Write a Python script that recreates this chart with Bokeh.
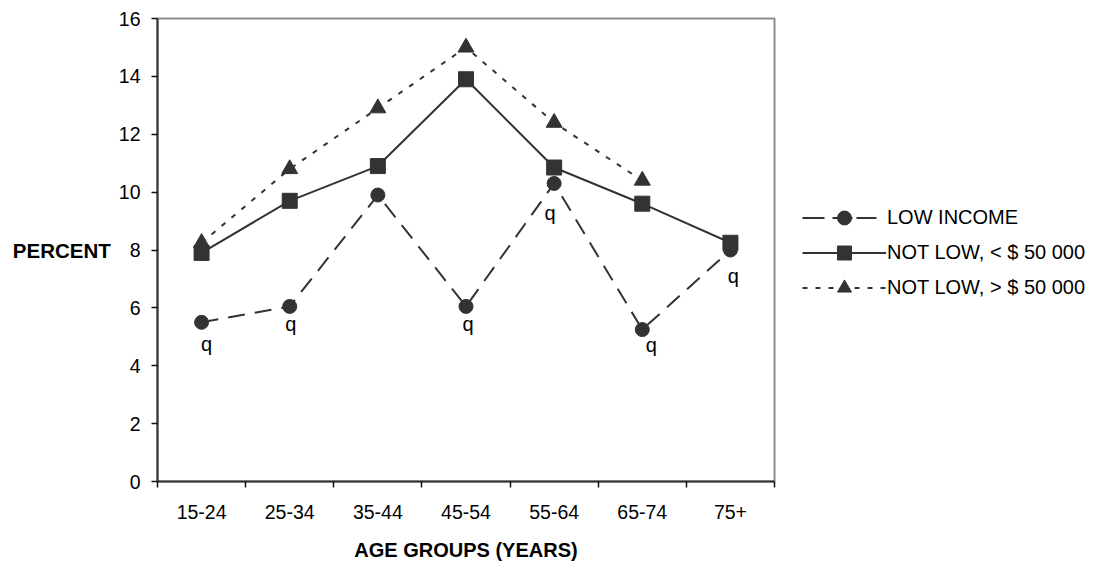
from bokeh.plotting import figure
from bokeh.layouts import row
from bokeh.models import FixedTicker, Legend, LegendItem, ColumnDataSource, Range1d
from bokeh.core.properties import value
from bokeh.embed import file_html
from bokeh.resources import INLINE

# ---- data ----
age_groups = ["15-24", "25-34", "35-44", "45-54", "55-64", "65-74", "75+"]
low_income = [5.5, 6.05, 9.9, 6.05, 10.3, 5.25, 8.0]
not_low_under_50k = [7.9, 9.7, 10.9, 13.9, 10.85, 9.6, 8.25]
not_low_over_50k = [8.25, 10.8, 12.9, 15.0, 12.4, 10.4, float("nan")]
low_income_flags = ["q", "q", "", "q", "q", "q", "q"]
y_ticks = [0, 2, 4, 6, 8, 10, 12, 14, 16]

series_names = ["LOW INCOME", "NOT LOW, < $ 50 000", "NOT LOW, > $ 50 000"]

# ---- layout / style ----
FONT = "Liberation Sans"
DARK = "#333333"
xs = [i + 0.5 for i in range(len(age_groups))]

p = figure(width=780, height=563, output_backend="svg", toolbar_location=None,
           x_range=Range1d(0, len(age_groups)), y_range=Range1d(0, 16),
           min_border_left=157, min_border_right=6, min_border_top=18, min_border_bottom=82)
p.xgrid.visible = False
p.ygrid.visible = False
p.outline_line_color = "#8c8c8c"
p.outline_line_width = 2
p.background_fill_color = "white"
p.border_fill_color = "white"

# x axis: labels at category centres, ticks at category boundaries
xa = p.xaxis[0]
xa.ticker = FixedTicker(ticks=xs, minor_ticks=list(range(len(age_groups) + 1)))
xa.major_label_overrides = {x: lab for x, lab in zip(xs, age_groups)}
xa.major_tick_line_color = None
xa.minor_tick_line_color = "#111111"
xa.minor_tick_line_width = 1.5
xa.minor_tick_in = 0
xa.minor_tick_out = 6
xa.axis_line_color = "#333333"
xa.axis_line_width = 2
xa.major_label_text_font = FONT
xa.major_label_text_font_size = "19.5px"
xa.major_label_text_color = "#000000"
xa.major_label_standoff = 17
xa.axis_label = "AGE GROUPS (YEARS)"
xa.axis_label_text_font = FONT
xa.axis_label_text_font_style = "bold"
xa.axis_label_text_font_size = "20px"
xa.axis_label_text_color = "#000000"
xa.axis_label_standoff = 17

ya = p.yaxis[0]
ya.ticker = FixedTicker(ticks=y_ticks)
ya.minor_tick_line_color = None
ya.major_tick_in = 0
ya.major_tick_out = 6
ya.major_tick_line_color = "#111111"
ya.major_tick_line_width = 1.5
ya.axis_line_color = "#333333"
ya.axis_line_width = 2
ya.major_label_text_font = FONT
ya.major_label_text_font_size = "19.5px"
ya.major_label_text_color = "#000000"
ya.major_label_standoff = 11
ya.axis_label = "PERCENT"
ya.axis_label_orientation = "horizontal"
ya.axis_label_text_font = FONT
ya.axis_label_text_font_style = "bold"
ya.axis_label_text_font_size = "20.5px"
ya.axis_label_text_color = "#000000"
ya.axis_label_standoff = 5

src = ColumnDataSource(dict(x=xs, low=low_income, under=not_low_under_50k, over=not_low_over_50k))

line_styles = [dict(line_color=DARK, line_width=2, line_dash="17 10"),
               dict(line_color=DARK, line_width=2),
               dict(line_color=DARK, line_width=2, line_dash="5 8")]
legend_line_styles = [dict(line_color=DARK, line_width=2, line_dash="22 8 20 4 20 10"),
                      dict(line_color=DARK, line_width=2),
                      dict(line_color=DARK, line_width=2, line_dash="5 8")]
marker_styles = [dict(marker="circle", size=14, fill_color=DARK, line_color=DARK),
                 dict(marker="square", size=15, fill_color=DARK, line_color=DARK),
                 dict(marker="triangle", size=16, fill_color=DARK, line_color=DARK)]
cols = ["low", "under", "over"]

for col, ls, ms in zip(cols, line_styles, marker_styles):
    p.line("x", col, source=src, **ls)
    p.scatter("x", col, source=src, **ms)

# "q" flags under the low-income points
q_dx = [5, 1, 0, 2, -4, 9, 3]
q_dy = [22, 18, 0, 18, 30, 15, 26]
qx, qy, qt, qox, qoy = [], [], [], [], []
for x, y, t, dx, dy in zip(xs, low_income, low_income_flags, q_dx, q_dy):
    if t:
        qx.append(x); qy.append(y); qt.append(t); qox.append(dx); qoy.append(dy)
qsrc = ColumnDataSource(dict(x=qx, y=qy, t=qt, dx=qox, dy=qoy))
p.text("x", "y", text="t", source=qsrc, x_offset="dx", y_offset="dy",
       text_align="center", text_baseline="alphabetic",
       text_font=value(FONT), text_font_size="20px", text_color="#000000")

# ---- legend panel to the right of the chart ----
# its renderers reuse the chart data but look at an empty stretch of x,
# so only the legend symbols show
lg = figure(width=327, height=563, output_backend="svg", toolbar_location=None,
            x_range=Range1d(-20, -10), y_range=Range1d(0, 16),
            min_border_left=0, min_border_right=0, min_border_top=0, min_border_bottom=0)
lg.axis.visible = False
lg.grid.visible = False
lg.outline_line_color = None
lg.background_fill_color = "white"
lg.border_fill_color = "white"

items = []
for name, col, ls, ms in zip(series_names, cols, legend_line_styles, marker_styles):
    rl = lg.line("x", col, source=src, **ls)
    rm = lg.scatter("x", col, source=src, **ms)
    items.append(LegendItem(label=name, renderers=[rl, rm]))

legend = Legend(items=items, location=(22, 176), glyph_width=84, glyph_height=35, spacing=0,
                padding=0, margin=0, label_standoff=1,
                label_text_font=FONT, label_text_font_size="20px", label_text_color="#000000",
                border_line_color=None, background_fill_alpha=0)
lg.add_layout(legend)

layout = row(p, lg, spacing=0)
open("out.html", "w").write(file_html(layout, INLINE))
